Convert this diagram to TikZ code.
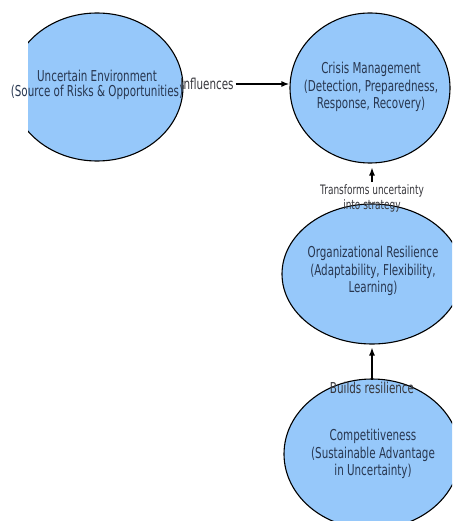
\documentclass[tikz,border=0pt]{standalone}
\usepackage{fontspec}
\setmainfont{DejaVu Sans}[FakeStretch=0.69]
\usepackage{xcolor}
\usetikzlibrary{positioning,shapes,arrows.meta}
\definecolor{bubblefill}{RGB}{150,200,250}
\definecolor{bubbletext}{RGB}{40,55,80}
\definecolor{notetext}{RGB}{55,55,60}

\begin{document}
\begin{tikzpicture}[x=1pt,y=-1pt,
    bubble/.style={ellipse,draw=black,line width=1.1pt,fill=bubblefill,inner sep=0pt},
    inside/.style={text=bubbletext,align=center,inner sep=0pt,font=\fontsize{15}{17.5}\selectfont},
    note/.style={text=notetext,align=center,inner sep=2pt,font=\fontsize{15}{17}\selectfont},
    link/.style={-{Latex[length=8pt,width=6pt]},line width=1.6pt}]
  \useasboundingbox (0,0) rectangle (452,521);
  \clip (0,0) rectangle (452,521);
  % left bubble is cut off at its left side
  \begin{scope}
    \clip (28,0) rectangle (452,521);
    \node[bubble,minimum width=172pt,minimum height=148pt] (env) at (97,87) {};
  \end{scope}
  \node[bubble,minimum width=160pt,minimum height=150pt] (crisis) at (370,88) {};
  \node[bubble,minimum width=180pt,minimum height=140pt] (org) at (372,274) {};
  \node[bubble,minimum width=176pt,minimum height=150pt] (comp) at (372,454) {};
  % texts
  \node[inside,font=\fontsize{15}{15}\selectfont] (envtxt) at (97,85)
    {Uncertain Environment\\(Source of Risks \& Opportunities)};
  \node[inside] (crisistxt) at (371,87)
    {Crisis Management\\(Detection, Preparedness,\\Response, Recovery)};
  \node[inside] (orgtxt) at (373,271)
    {Organizational Resilience\\(Adaptability, Flexibility,\\Learning)};
  \node[inside] (comptxt) at (373,454)
    {Competitiveness\\(Sustainable Advantage\\in Uncertainty)};
  % labels with their arrows
  \node[note] (inflbl) at (207,84) {Influences};
  \node[note,font=\fontsize{13}{15}\selectfont] (translbl) at (372,198)
    {Transforms uncertainty\\into strategy};
  \node[note] (buildlbl) at (372,388) {Builds resilience};
  \draw[link] (inflbl.east) -- (inflbl.east -| crisis.west);
  \draw[link,line width=1.3pt,shorten >=4pt] (translbl.north) -- (translbl.north |- crisis.south);
  \draw[link,line width=1.3pt,shorten >=3pt] (buildlbl) -- (org);
\end{tikzpicture}
\end{document}
